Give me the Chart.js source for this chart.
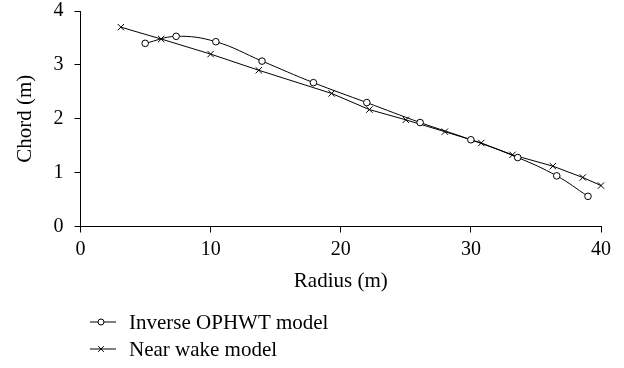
<!DOCTYPE html>
<html>
<head>
<meta charset="utf-8">
<script src="https://cdn.jsdelivr.net/npm/chart.js@4/dist/chart.umd.min.js"></script>
<style>
  html, body { margin: 0; padding: 0; background: #fff; }
  #wrap { width: 624px; height: 368px; position: relative; }
</style>
</head>
<body>
<div id="wrap"><canvas id="c" width="624" height="368"></canvas></div>
<script>
// Blade chord distribution along the radius for the two design models
const inverseRadius = [4.97, 7.35, 10.4, 13.95, 17.9, 22.0, 26.1, 30.0, 33.6, 36.6, 39.0];
const inverseChord  = [3.40, 3.53, 3.43, 3.07, 2.67, 2.30, 1.93, 1.61, 1.28, 0.94, 0.56];
const wakeRadius = [3.1, 6.2, 10.0, 13.7, 19.3, 22.2, 25.0, 28.0, 30.8, 33.2, 36.3, 38.6, 40.0];
const wakeChord  = [3.70, 3.48, 3.20, 2.90, 2.47, 2.17, 1.98, 1.76, 1.55, 1.33, 1.12, 0.91, 0.76];
const seriesNames = ['Inverse OPHWT model', 'Near wake model'];
const xTicks = [0, 10, 20, 30, 40];
const yTicks = [0, 1, 2, 3, 4];

const toPoints = (xs, ys) => xs.map((x, i) => ({ x: x, y: ys[i] }));
const FONT = 'Liberation Serif, Times New Roman, serif';

// Legend drawn below the axes: short line with the series marker, then the name
const bottomLegend = {
  id: 'bottomLegend',
  afterDraw(chart) {
    const ctx = chart.ctx;
    const rows = [322, 349];
    ctx.save();
    chart.data.datasets.forEach((ds, i) => {
      const y = rows[i];
      ctx.strokeStyle = '#000';
      ctx.lineWidth = 1;
      ctx.beginPath();
      ctx.moveTo(90, y);
      ctx.lineTo(116, y);
      ctx.stroke();
      if (ds.pointStyle === 'circle') {
        ctx.fillStyle = '#fff';
        ctx.beginPath();
        ctx.arc(101, y, 3, 0, Math.PI * 2);
        ctx.fill();
        ctx.stroke();
      } else {
        Chart.helpers.drawPoint(ctx, { pointStyle: ds.pointStyle, radius: 4, borderWidth: 1 }, 101, y);
      }
      ctx.fillStyle = '#000';
      ctx.font = '21px ' + FONT;
      ctx.textBaseline = 'middle';
      ctx.textAlign = 'left';
      ctx.fillText(seriesNames[i], 129, y + 1);
    });
    ctx.restore();
  }
};

new Chart(document.getElementById('c'), {
  type: 'scatter',
  data: {
    datasets: [
      {
        label: seriesNames[0],
        data: toPoints(inverseRadius, inverseChord),
        showLine: true,
        tension: 0.4,
        clip: false,
        borderColor: '#000',
        borderWidth: 1,
        pointStyle: 'circle',
        pointRadius: 3.3,
        pointBackgroundColor: '#fff',
        pointBorderColor: '#000',
        pointBorderWidth: 1
      },
      {
        label: seriesNames[1],
        data: toPoints(wakeRadius, wakeChord),
        showLine: true,
        tension: 0,
        clip: false,
        borderColor: '#000',
        borderWidth: 1,
        pointStyle: 'crossRot',
        pointRadius: 4.5,
        pointBorderColor: '#000',
        pointBorderWidth: 1
      }
    ]
  },
  options: {
    responsive: false,
    animation: false,
    devicePixelRatio: 1,
    layout: { padding: { left: 0, right: 23, top: 11, bottom: 74.4 } },
    plugins: { legend: { display: false }, tooltip: { enabled: false } },
    scales: {
      x: {
        type: 'linear',
        min: 0, max: 40,
        afterBuildTicks: (s) => { s.ticks = xTicks.map(v => ({ value: v })); },
        border: { display: true, color: '#000', width: 1 },
        grid: { drawOnChartArea: false, drawTicks: true, tickLength: 6, color: '#000' },
        ticks: { color: '#000', font: { family: FONT, size: 20 }, padding: 5, maxRotation: 0 },
        title: { display: true, text: 'Radius (m)', color: '#000', font: { family: FONT, size: 21 }, padding: { top: 4, bottom: 0 } },
        afterFit: (s) => { s.height = 67.1; s.paddingLeft = 0; s.paddingRight = 0; }
      },
      y: {
        type: 'linear',
        min: 0, max: 4,
        afterBuildTicks: (s) => { s.ticks = yTicks.map(v => ({ value: v })); },
        border: { display: true, color: '#000', width: 1 },
        grid: { drawOnChartArea: false, drawTicks: true, tickLength: 6, color: '#000' },
        ticks: { color: '#000', font: { family: FONT, size: 20 }, padding: 11 },
        title: { display: true, text: 'Chord (m)', color: '#000', font: { family: FONT, size: 21 }, padding: { top: 12.4, bottom: 4 } },
        afterFit: (s) => { s.width = 80.5; s.paddingTop = 0; s.paddingBottom = 0; }
      }
    }
  },
  plugins: [bottomLegend]
});
</script>
</body>
</html>
